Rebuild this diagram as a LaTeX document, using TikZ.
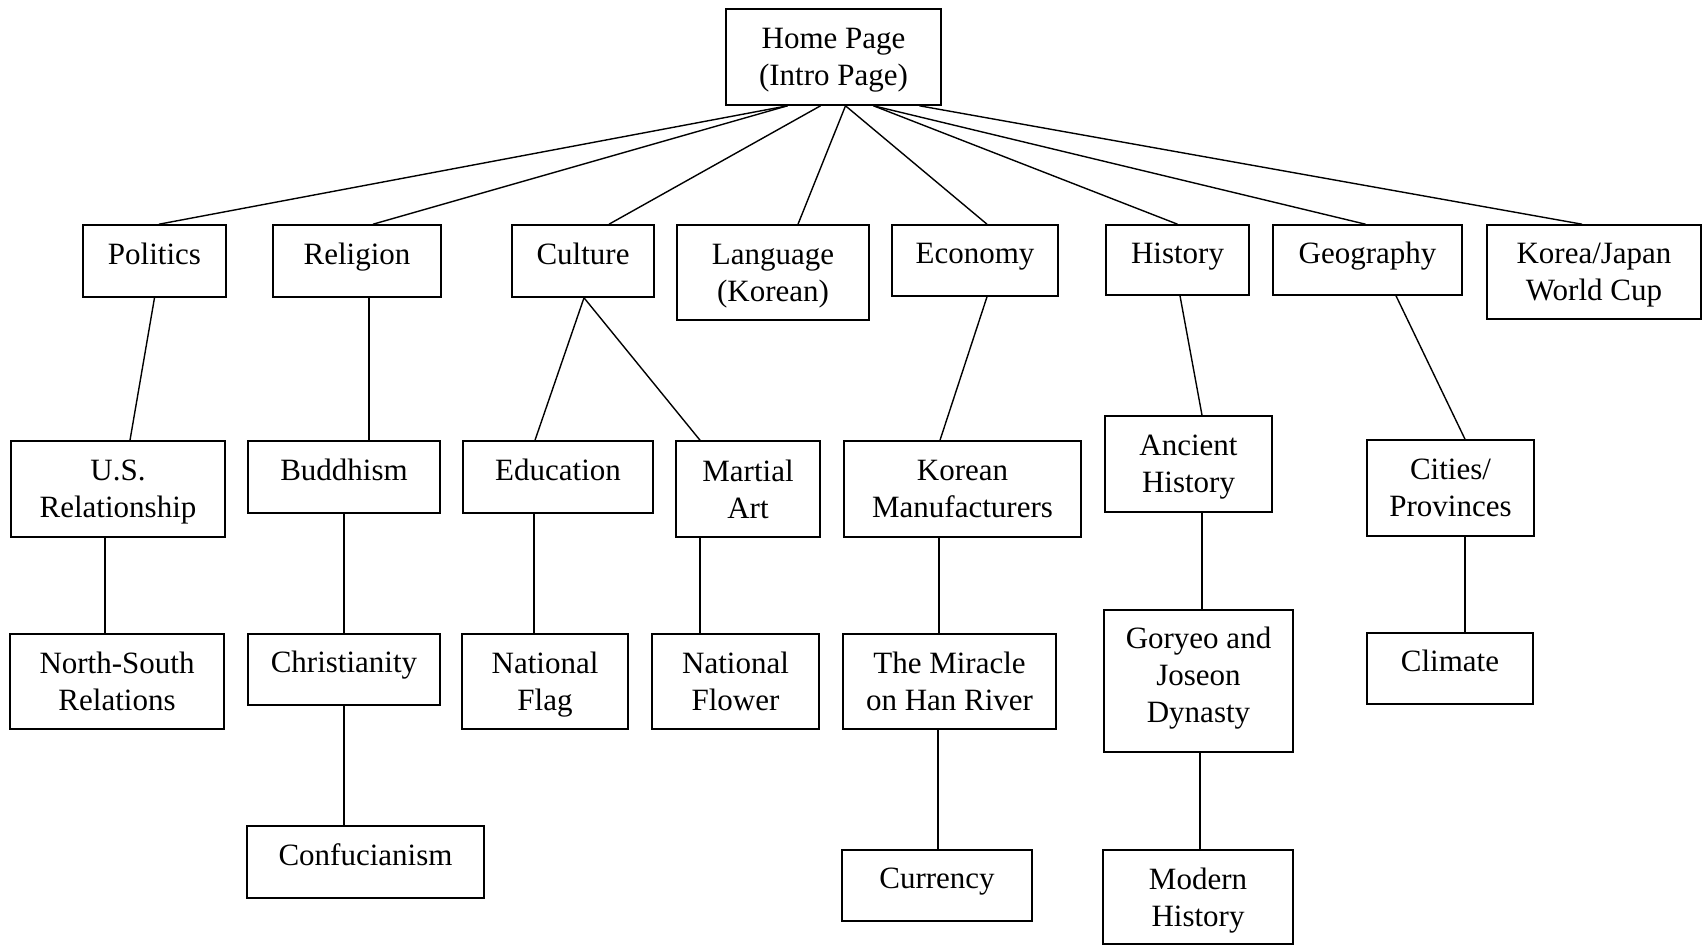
\documentclass[tikz,border=0pt]{standalone}
\usepackage{fontspec}
\setmainfont{Liberation Serif}
\newcommand{\boxfont}{\fontsize{31}{37}\selectfont}
\tikzset{
	page/.style={draw, line width=1.6pt, inner sep=0pt, align=center, font=\boxfont, text depth=0pt},
	one/.style={text height=22pt, text depth=16pt},
	link/.style={line width=1.4pt}
}
\begin{document}
\begin{tikzpicture}[x=1pt, y=-1pt]
		\useasboundingbox (0,0) rectangle (1707,945);
		% top
		\node[page, minimum width=215, minimum height=96] (home) at (833.5,57) {Home Page\\(Intro Page)};
		
		% first level
		\node[page, one, minimum width=143, minimum height=72] (pol) at (154.5,261) {Politics};
		\node[page, one, minimum width=168, minimum height=72] (rel) at (357,261) {Religion};
		\node[page, one, minimum width=142, minimum height=72] (cul) at (583,261) {Culture};
		\node[page, minimum width=192, minimum height=95] (lang) at (773,272.5) {Language\\(Korean)};
		\node[page, one, minimum width=166, minimum height=71] (eco) at (975,260.5) {Economy};
		\node[page, one, minimum width=143, minimum height=70] (hist) at (1177.5,260) {History};
		\node[page, one, minimum width=189, minimum height=70] (geo) at (1367.5,260) {Geography};
		\node[page, minimum width=214, minimum height=94] (cup) at (1594,272) {Korea/Japan\\World Cup};
		
		% second level
		\node[page, minimum width=214, minimum height=96] (usr) at (118,489) {U.S.\\Relationship};
		\node[page, one, minimum width=192, minimum height=72] (bud) at (344,477) {Buddhism};
		\node[page, one, minimum width=190, minimum height=72] (edu) at (558,477) {Education};
		\node[page, minimum width=144, minimum height=96] (mart) at (748,489) {Martial\\Art};
		\node[page, minimum width=237, minimum height=96] (kman) at (962.5,489) {Korean\\Manufacturers};
		\node[page, minimum width=167, minimum height=96] (anc) at (1188.5,464) {Ancient\\History};
		\node[page, minimum width=167, minimum height=96] (city) at (1450.5,488) {Cities/\\Provinces};
		
		% third level
		\node[page, minimum width=214, minimum height=95] (nsr) at (117,681.5) {North-South\\Relations};
		\node[page, one, minimum width=192, minimum height=71] (chr) at (344,669.5) {Christianity};
		\node[page, minimum width=166, minimum height=95] (flag) at (545,681.5) {National\\Flag};
		\node[page, minimum width=167, minimum height=95] (flow) at (735.5,681.5) {National\\Flower};
		\node[page, minimum width=213, minimum height=95] (mir) at (949.5,681.5) {The Miracle\\on Han River};
		\node[page, text depth=13pt, minimum width=189, minimum height=142] (gory) at (1198.5,681) {Goryeo and\\Joseon\\Dynasty};
		\node[page, one, minimum width=166, minimum height=71] (clim) at (1450,668.5) {Climate};
		
		% fourth level
		\node[page, one, minimum width=237, minimum height=72] (conf) at (365.5,862) {Confucianism};
		\node[page, one, minimum width=190, minimum height=71] (cur) at (937,885.5) {Currency};
		\node[page, minimum width=190, minimum height=94] (mod) at (1198,897) {Modern\\History};
		
		% links from home page
		\draw[link] ([xshift=-46]home.south) -- ([xshift=4.5]pol.north);
		\draw[link] ([xshift=-46]home.south) -- ([xshift=16]rel.north);
		\draw[link] ([xshift=-13]home.south) -- ([xshift=26]cul.north);
		\draw[link] ([xshift=12]home.south) -- ([xshift=25]lang.north);
		\draw[link] ([xshift=12]home.south) -- ([xshift=12]eco.north);
		\draw[link] ([xshift=40]home.south) -- (hist.north);
		\draw[link] ([xshift=40]home.south) -- ([xshift=-2]geo.north);
		\draw[link] ([xshift=86]home.south) -- ([xshift=-12]cup.north);
		
		% first to second
		\draw[link] (pol.south) -- ([xshift=12]usr.north);
		\draw[link] ([xshift=12]rel.south) -- ([xshift=25]bud.north);
		\draw[link] ([xshift=1]cul.south) -- ([xshift=-23]edu.north);
		\draw[link] ([xshift=1]cul.south) -- ([xshift=-48]mart.north);
		\draw[link] ([xshift=12]eco.south) -- ([xshift=-22.5]kman.north);
		\draw[link] ([xshift=2.5]hist.south) -- ([xshift=13.5]anc.north);
		\draw[link] ([xshift=28.5]geo.south) -- ([xshift=14.5]city.north);
		
		% second to third
		\draw[link] ([xshift=-13]usr.south) -- ([xshift=-12]nsr.north);
		\draw[link] (bud.south) -- (chr.north);
		\draw[link] ([xshift=-24]edu.south) -- ([xshift=-11]flag.north);
		\draw[link] ([xshift=-48]mart.south) -- ([xshift=-35.5]flow.north);
		\draw[link] ([xshift=-23.5]kman.south) -- ([xshift=-10.5]mir.north);
		\draw[link] ([xshift=13.5]anc.south) -- ([xshift=3.5]gory.north);
		\draw[link] ([xshift=14.5]city.south) -- ([xshift=15]clim.north);
		
		% third to fourth
		\draw[link] (chr.south) -- ([xshift=-21.5]conf.north);
		\draw[link] ([xshift=-11.5]mir.south) -- ([xshift=1]cur.north);
		\draw[link] ([xshift=1.5]gory.south) -- ([xshift=2]mod.north);
		
	\end{tikzpicture}
\end{document}
